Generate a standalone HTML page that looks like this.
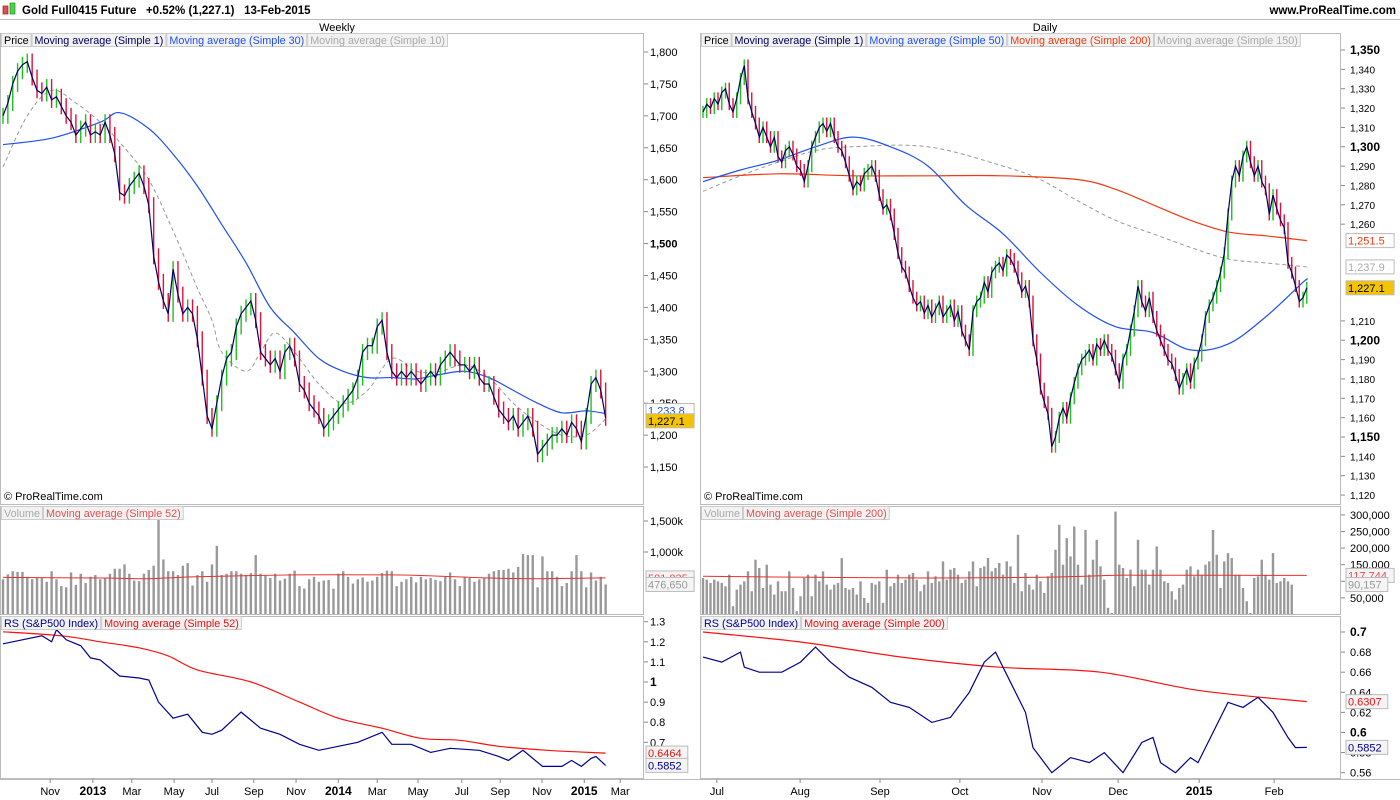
<!DOCTYPE html>
<html><head><meta charset="utf-8"><title>Gold Full0415 Future</title>
<style>
html,body{margin:0;padding:0;background:#fff;}
svg{display:block;font-family:"Liberation Sans",sans-serif;}
</style></head>
<body>
<svg id="chart" width="1400" height="800" viewBox="0 0 1400 800" xmlns="http://www.w3.org/2000/svg">
<defs>
<clipPath id="cLP"><rect x="1" y="33" width="642" height="471"/></clipPath>
<clipPath id="cLV"><rect x="1" y="507" width="642" height="107"/></clipPath>
<clipPath id="cLR"><rect x="1" y="617" width="642" height="161"/></clipPath>
<clipPath id="cRP"><rect x="701" y="33" width="639" height="471"/></clipPath>
<clipPath id="cRV"><rect x="701" y="507" width="639" height="107"/></clipPath>
<clipPath id="cRR"><rect x="701" y="617" width="639" height="161"/></clipPath>
</defs>
<g>
<rect x="3" y="6" width="5" height="8" fill="#e05050" stroke="#900" stroke-width="0.6"/>
<rect x="10" y="3" width="5" height="11" fill="#50d050" stroke="#080" stroke-width="0.6"/>
<text x="22" y="14" font-size="11.5" font-weight="bold" fill="#000">Gold Full0415 Future &#160;&#160;+0.52% (1,227.1) &#160;&#160;13-Feb-2015</text>
<text x="1396" y="14" font-size="11.5" font-weight="bold" fill="#000" text-anchor="end">www.ProRealTime.com</text>
<line x1="0" y1="19.5" x2="1400" y2="19.5" stroke="#bbb"/>
</g>
<text x="337" y="31" font-size="11" text-anchor="middle">Weekly</text>
<text x="1045" y="31" font-size="11" text-anchor="middle">Daily</text>
<g id="layers"></g>
</svg>
<script>
// ---------- WEEKLY DATA ----------
const wClose=[1700,1720,1750,1770,1780,1785,1760,1740,1735,1745,1725,1730,1715,1700,1690,1670,1680,1690,1670,1675,1670,1690,1670,1640,1580,1575,1590,1600,1610,1590,1560,1480,1440,1410,1390,1460,1420,1390,1400,1390,1350,1290,1230,1210,1250,1290,1320,1330,1370,1390,1400,1410,1380,1330,1320,1310,1320,1300,1330,1340,1320,1280,1270,1250,1240,1230,1210,1220,1230,1240,1250,1260,1270,1290,1330,1340,1340,1370,1380,1330,1300,1290,1300,1290,1300,1290,1280,1290,1300,1290,1310,1320,1330,1320,1310,1310,1300,1310,1290,1280,1280,1260,1240,1230,1220,1230,1210,1220,1230,1210,1170,1180,1190,1200,1200,1210,1200,1220,1210,1190,1230,1280,1290,1270,1227.1];
const wMa30Idx=[0,10,20,24,30,35,40,45,50,55,60,65,70,75,80,85,90,95,100,105,110,115,120,124];
const wMa30Val=[1655,1665,1690,1705,1680,1640,1590,1530,1470,1400,1360,1320,1300,1290,1290,1288,1295,1300,1290,1270,1250,1235,1238,1233.8];
const wMa10Idx=[0,5,10,15,20,25,30,35,40,43,45,50,53,56,60,65,70,75,80,85,90,95,100,105,110,115,120,124];
const wMa10Val=[1620,1700,1740,1720,1690,1650,1600,1520,1430,1380,1330,1300,1330,1360,1330,1280,1250,1270,1320,1300,1300,1310,1290,1250,1220,1200,1200,1225];
const wVol=[560,640,690,680,680,600,560,580,580,520,690,560,450,430,670,470,650,500,600,630,560,580,650,730,730,800,650,540,530,650,710,780,1600,880,690,690,630,780,820,460,630,690,520,800,1100,630,650,690,690,650,630,660,950,650,630,580,650,540,570,650,700,450,410,560,600,520,540,550,410,650,690,600,490,560,590,520,540,600,660,700,690,450,520,560,600,510,600,560,580,550,530,600,670,560,450,600,580,520,560,580,650,690,710,710,730,670,760,970,950,950,430,930,690,690,600,450,500,690,950,690,430,670,540,600,476.65];
const wVolMaIdx=[0,20,30,40,60,80,90,100,110,124];
const wVolMaVal=[590,580,570,600,630,630,610,580,570,582];
const wRsIdx=[0,4,8,10,11,13,16,18,20,24,28,30,32,35,38,41,43,45,49,53,57,61,65,69,73,78,80,84,88,92,98,102,104,107,111,115,117,119,121,122,124];
const wRsVal=[1.19,1.21,1.23,1.2,1.26,1.21,1.18,1.12,1.11,1.03,1.02,1.01,0.9,0.82,0.84,0.75,0.74,0.76,0.85,0.77,0.74,0.69,0.66,0.68,0.70,0.75,0.69,0.69,0.65,0.67,0.66,0.63,0.61,0.66,0.58,0.58,0.61,0.58,0.62,0.63,0.5852];
const wRsMaIdx=[0,12,20,28,34,40,51,61,69,78,86,94,102,112,124];
const wRsMaVal=[1.25,1.23,1.2,1.17,1.13,1.06,1.0,0.9,0.82,0.77,0.72,0.71,0.68,0.66,0.6464];
const wPriceTicks=[1150,1200,1250,1300,1350,1400,1450,1500,1550,1600,1650,1700,1750,1800];
const wMonthLabels=["Nov","2013","Mar","May","Jul","Sep","Nov","2014","Mar","May","Jul","Sep","Nov","2015","Mar"];
const wMonthIdx=[9.7,18.5,26.5,35.2,43,51.6,60.3,69,77,85.4,94.4,102.3,110.9,119.6,127];
// ---------- DAILY DATA ----------
const dClose=[1318,1322,1320,1325,1322,1328,1330,1322,1318,1325,1335,1342,1325,1318,1312,1305,1310,1305,1300,1305,1295,1292,1298,1300,1296,1290,1288,1282,1290,1300,1305,1310,1312,1308,1312,1305,1300,1298,1292,1285,1278,1282,1280,1286,1288,1290,1285,1275,1268,1270,1265,1255,1245,1238,1235,1228,1222,1218,1220,1214,1218,1212,1216,1220,1212,1215,1218,1210,1215,1205,1200,1195,1215,1220,1222,1230,1225,1235,1238,1240,1236,1244,1242,1238,1232,1225,1228,1220,1200,1190,1175,1168,1162,1145,1150,1160,1165,1160,1170,1178,1185,1190,1192,1195,1190,1198,1195,1200,1195,1192,1185,1178,1190,1195,1205,1215,1228,1220,1215,1222,1212,1205,1200,1195,1190,1188,1182,1175,1180,1185,1178,1188,1192,1200,1212,1218,1222,1228,1235,1245,1265,1282,1290,1285,1295,1300,1292,1285,1290,1282,1278,1265,1275,1268,1262,1258,1240,1235,1228,1220,1222,1227.1];
const dMa50Idx=[0,10,20,30,40,50,60,70,80,90,100,110,120,130,140,150,160,161];
const dMa50Val=[1282,1288,1293,1300,1305,1300,1290,1270,1255,1235,1218,1207,1204,1195,1198,1212,1230,1231.2];
const dMa200Idx=[0,20,40,60,80,100,110,120,130,140,150,161];
const dMa200Val=[1284,1286,1285,1285,1285,1283,1278,1270,1262,1256,1254,1251.5];
const dMa150Idx=[0,10,20,30,40,60,80,90,100,110,120,130,140,150,161];
const dMa150Val=[1277,1285,1292,1298,1300,1300,1290,1283,1272,1262,1255,1248,1242,1240,1237.9];
const dVol=[110,105,95,105,100,95,85,120,25,75,90,100,130,70,165,140,80,150,90,60,100,70,70,130,80,10,55,110,120,55,120,100,130,90,75,90,95,170,80,75,80,60,100,50,35,95,90,100,35,135,85,95,120,95,105,120,125,105,70,90,130,95,115,100,160,105,135,140,120,95,105,130,160,85,140,145,170,130,140,155,120,160,145,95,240,70,125,90,75,120,100,65,115,125,195,270,150,230,175,265,150,90,255,120,165,225,145,105,20,5,310,150,140,110,135,85,225,135,135,90,135,205,135,100,95,70,45,80,90,135,145,115,135,120,150,160,255,180,80,160,185,170,120,120,80,40,5,110,115,165,120,105,185,95,100,110,100,90];
const dVolMaIdx=[0,30,60,90,110,120,140,161];
const dVolMaVal=[115,112,110,112,118,118,118,117.7];
const dRsIdx=[0,5,10,11,15,21,26,30,34,39,45,50,55,61,66,71,75,78,82,86,88,93,98,103,107,112,117,120,122,126,130,132,136,140,144,148,152,156,158,161];
const dRsVal=[0.675,0.67,0.68,0.665,0.66,0.66,0.67,0.685,0.67,0.655,0.645,0.63,0.625,0.61,0.615,0.64,0.67,0.68,0.65,0.62,0.585,0.56,0.575,0.57,0.58,0.56,0.59,0.595,0.57,0.56,0.575,0.57,0.6,0.63,0.625,0.635,0.62,0.595,0.585,0.5852];
const dRsMaIdx=[0,26,53,79,106,132,161];
const dRsMaVal=[0.70,0.69,0.675,0.665,0.66,0.642,0.6307];
const dPriceTicks=[1120,1130,1140,1150,1160,1170,1180,1190,1200,1210,1220,1230,1240,1250,1260,1270,1280,1290,1300,1310,1320,1330,1340,1350];
const dMonthLabels=["Jul","Aug","Sep","Oct","Nov","Dec","2015","Feb"];
const dMonthIdx=[3.7,25.9,47.2,68.5,90.4,110.7,132.3,152.3];

// ---------- SCALES ----------
const wx=i=>3+4.86*i, wy=p=>52+(1800-p)*0.6385;
const dx=i=>703+3.75*i, dy=p=>50+(1350-p)*1.935;
const wvy=v=>614-v*0.062, dvy=v=>614.5-v*0.332;
const wry=v=>682-(v-1)*201, dry=v=>632+(0.7-v)*1005;

const NS="http://www.w3.org/2000/svg";
const root=document.getElementById('layers');
function mk(tag,attrs,parent){const e=document.createElementNS(NS,tag);for(const k in attrs)e.setAttribute(k,attrs[k]);(parent||root).appendChild(e);return e;}
function txt(x,y,s,attrs,parent){const e=mk('text',Object.assign({x:x,y:y},attrs),parent);e.textContent=s;return e;}
function group(clip){const g=mk('g',clip?{'clip-path':'url(#'+clip+')'}:{});return g;}

[[0.5,33.5,643,471],[0.5,506.5,643,108],[0.5,616.5,643,162],[700.5,33.5,640,471],[700.5,506.5,640,108],[700.5,616.5,640,162]].forEach((r,k)=>{
  const e=mk('rect',{x:r[0],y:r[1],width:r[2],height:r[3],fill:'none',stroke:'#bbb'});
  
  
});
mk('line',{x1:0,y1:779.5,x2:1400,y2:779.5,stroke:'#bbb'});

function line(pts,attrs,parent){return mk('polyline',Object.assign({points:pts.map(p=>p[0].toFixed(1)+','+p[1].toFixed(1)).join(' '),fill:'none'},attrs),parent);}
function smooth(pts,attrs,parent){
  let d='M'+pts[0][0].toFixed(1)+','+pts[0][1].toFixed(1);
  for(let i=0;i<pts.length-1;i++){
    const p0=pts[Math.max(0,i-1)],p1=pts[i],p2=pts[i+1],p3=pts[Math.min(pts.length-1,i+2)];
    const c1=[p1[0]+(p2[0]-p0[0])/6,p1[1]+(p2[1]-p0[1])/6],c2=[p2[0]-(p3[0]-p1[0])/6,p2[1]-(p3[1]-p1[1])/6];
    d+=' C'+c1[0].toFixed(1)+','+c1[1].toFixed(1)+' '+c2[0].toFixed(1)+','+c2[1].toFixed(1)+' '+p2[0].toFixed(1)+','+p2[1].toFixed(1);
  }
  return mk('path',Object.assign({d:d,fill:'none'},attrs),parent);
}

function pricePanel(close,X,Y,clip,wick,name){
  const g=group(clip);
  
  
  for(let i=0;i<close.length;i++){
    const o=i>0?close[i-1]:close[i];const c=close[i];
    const up=c>=o;
    const y1=Y(Math.max(o,c))-wick, y2=Y(Math.min(o,c))+wick;
    const b=mk('line',{x1:X(i),x2:X(i),y1:y1,y2:y2,stroke:up?'#1fbf1f':'#e0103a','stroke-width':1.4},g);
    
    
  }
  const l=line(close.map((c,i)=>[X(i),Y(c)]),{stroke:'#000060','stroke-width':1.2},g);
  
  
}
function maLine(idx,val,X,Y,clip,attrs,name,jag){
  const g=group(clip);
  const pts=idx.map((k,j)=>[X(k),Y(val[j])]);
  const l=jag?line(pts,attrs,g):smooth(pts,attrs,g);
  
  
}
function volBars(vol,X,Y,clip,name){
  const g=group(clip);
  for(let i=0;i<vol.length;i++){
    const r=mk('rect',{x:X(i)-1.2,y:Y(vol[i]),width:2.4,height:Y(0)-Y(vol[i]),fill:'#999'},g);
    
    
  }
}
function legend(x,y,items){
  let cx=x;
  items.forEach(it=>{
    const r=mk('rect',{x:cx+0.5,y:y+0.5,width:10,height:13,fill:'#f2f2f2',stroke:'#ccc'});
    const t=txt(cx+3,y+11,it[0],{'font-size':11,fill:it[1]});
    
    
    let w=t.getComputedTextLength();
    if(!w)w=it[0].length*5.2;
    w=w*0.98+5;
    t.setAttribute('textLength',(w-5).toFixed(1));
    t.setAttribute('lengthAdjust','spacingAndGlyphs');
    r.setAttribute('width',w.toFixed(1));
    cx+=w+1;
  });
}
function tag(x,y,s,fill,col,name){
  const w=s.length*6.3+4;
  mk('rect',{x:x,y:y-7,width:w,height:14,fill:fill,stroke:'#bbb'});
  const t=txt(x+2,y+4,s,{'font-size':11,fill:col});
  
  
}
function fmt(n){return n.toLocaleString('en-US');}

// ---- WEEKLY ----
maLine(wMa10Idx,wMa10Val,wx,wy,'cLP',{stroke:'#999','stroke-width':1,'stroke-dasharray':'4,3'},'weekly-ma10');
maLine(wMa30Idx,wMa30Val,wx,wy,'cLP',{stroke:'#2050f0','stroke-width':1.2},'weekly-ma30');
pricePanel(wClose,wx,wy,'cLP',8,'weekly');
volBars(wVol,wx,wvy,'cLV','weekly-volume-bar');
maLine(wVolMaIdx,wVolMaVal,wx,wvy,'cLV',{stroke:'#e83030','stroke-width':1},'weekly-volume-ma');
maLine(wRsMaIdx,wRsMaVal,wx,wry,'cLR',{stroke:'#ff1010','stroke-width':1.2},'weekly-rs-ma');
maLine(wRsIdx,wRsVal,wx,wry,'cLR',{stroke:'#000090','stroke-width':1.2},'weekly-rs-line',true);

// ---- DAILY ----
maLine(dMa150Idx,dMa150Val,dx,dy,'cRP',{stroke:'#999','stroke-width':1,'stroke-dasharray':'4,3'},'daily-ma150');
maLine(dMa200Idx,dMa200Val,dx,dy,'cRP',{stroke:'#f03a10','stroke-width':1.2},'daily-ma200');
maLine(dMa50Idx,dMa50Val,dx,dy,'cRP',{stroke:'#2050f0','stroke-width':1.2},'daily-ma50');
pricePanel(dClose,dx,dy,'cRP',6,'daily');
volBars(dVol,dx,dvy,'cRV','daily-volume-bar');
maLine(dVolMaIdx,dVolMaVal,dx,dvy,'cRV',{stroke:'#e83030','stroke-width':1},'daily-volume-ma');
maLine(dRsMaIdx,dRsMaVal,dx,dry,'cRR',{stroke:'#ff1010','stroke-width':1.2},'daily-rs-ma');
maLine(dRsIdx,dRsVal,dx,dry,'cRR',{stroke:'#000090','stroke-width':1.2},'daily-rs-line',true);

// ---- AXES ----
wPriceTicks.forEach(p=>{
  mk('line',{x1:644,x2:648,y1:wy(p),y2:wy(p),stroke:'#888'});
  const t=txt(650,wy(p)+4,fmt(p),{'font-size':11,'font-weight':p===1500?'bold':'normal'});
  
  
});
dPriceTicks.forEach(p=>{
  if(p===1250||p===1240||p===1230||p===1220)return;
  mk('line',{x1:1341,x2:1345,y1:dy(p),y2:dy(p),stroke:'#888'});
  const b=p%50===0;
  const t=txt(1350,dy(p)+4,fmt(p),{'font-size':b?12:10,'font-weight':b?'bold':'normal'});
  
  
});
[[1500,'1,500k'],[1000,'1,000k']].forEach(v=>{mk('line',{x1:644,x2:648,y1:wvy(v[0]),y2:wvy(v[0]),stroke:'#888'});txt(650,wvy(v[0])+4,v[1],{'font-size':11});});
[300,250,200,150,100,50].forEach(v=>{mk('line',{x1:1341,x2:1345,y1:dvy(v),y2:dvy(v),stroke:'#888'});if(v!==100)txt(1350,dvy(v)+4,fmt(v*1000),{'font-size':11});});
[1.3,1.2,1.1,1,0.9,0.8,0.7].forEach(v=>{mk('line',{x1:644,x2:648,y1:wry(v),y2:wry(v),stroke:'#888'});txt(650,wry(v)+4,String(v),{'font-size':v===1?12:11,'font-weight':v===1?'bold':'normal'});});
[0.7,0.68,0.66,0.64,0.62,0.6,0.58,0.56].forEach(v=>{mk('line',{x1:1341,x2:1345,y1:dry(v),y2:dry(v),stroke:'#888'});const b=(v===0.7||v===0.6);txt(1350,dry(v)+4,String(v),{'font-size':b?12:11,'font-weight':b?'bold':'normal'});});
wMonthLabels.forEach((m,k)=>{const x=wx(wMonthIdx[k]);mk('line',{x1:x,x2:x,y1:779,y2:783,stroke:'#888'});const b=/^\d/.test(m);const t=txt(x,795,m,{'font-size':b?12:11,'font-weight':b?'bold':'normal','text-anchor':'middle'});});
dMonthLabels.forEach((m,k)=>{const x=dx(dMonthIdx[k]);mk('line',{x1:x,x2:x,y1:779,y2:783,stroke:'#888'});const b=/^\d/.test(m);const t=txt(x,795,m,{'font-size':b?12:11,'font-weight':b?'bold':'normal','text-anchor':'middle'});});

// ---- VALUE TAGS ----
tag(646,wy(1233.8)-3,'1,233.8','#fff','#2050f0','weekly-ma30-value');
tag(646,wy(1227.1)+3,'1,227.1','#f5c400','#000','weekly-last-price');
tag(1346,dy(1251.5),'1,251.5','#fff','#f03a10','daily-ma200-value');
tag(1346,dy(1237.9),'1,237.9','#fff','#aaa','daily-ma150-value');
tag(1346,dy(1227.1),'1,227.1','#f5c400','#000','daily-last-price');
tag(646,wvy(581.8),'581,835','#f4f4f4','#e85050','weekly-volume-ma-value');
tag(646,wvy(476.6),'476,650','#f4f4f4','#999','weekly-volume-value');
tag(1346,dvy(117.7),'117,744','#f4f4f4','#e85050','daily-volume-ma-value');
tag(1346,dvy(90.2),'90,157','#f4f4f4','#999','daily-volume-value');
tag(646,wry(0.6464),'0.6464','#f4f4f4','#f01010','weekly-rs-ma-value');
tag(646,wry(0.5852),'0.5852','#f4f4f4','#000090','weekly-rs-value');
tag(1346,dry(0.6307),'0.6307','#f4f4f4','#f01010','daily-rs-ma-value');
tag(1346,dry(0.5852),'0.5852','#f4f4f4','#000090','daily-rs-value');

// ---- LEGENDS ----
legend(1,33,[['Price','#000'],['Moving average (Simple 1)','#000060'],['Moving average (Simple 30)','#2050f0'],['Moving average (Simple 10)','#aaa']]);
legend(701,33,[['Price','#000'],['Moving average (Simple 1)','#000060'],['Moving average (Simple 50)','#2050f0'],['Moving average (Simple 200)','#f03a10'],['Moving average (Simple 150)','#aaa']]);
legend(1,506,[['Volume','#aaa'],['Moving average (Simple 52)','#e85050']]);
legend(701,506,[['Volume','#aaa'],['Moving average (Simple 200)','#e85050']]);
legend(1,616,[['RS (S&P500 Index)','#000090'],['Moving average (Simple 52)','#f01010']]);
legend(701,616,[['RS (S&P500 Index)','#000090'],['Moving average (Simple 200)','#f01010']]);
const c1=txt(4,500,'© ProRealTime.com',{'font-size':11});


const c2=txt(704,500,'© ProRealTime.com',{'font-size':11});


</script>
</body></html>
